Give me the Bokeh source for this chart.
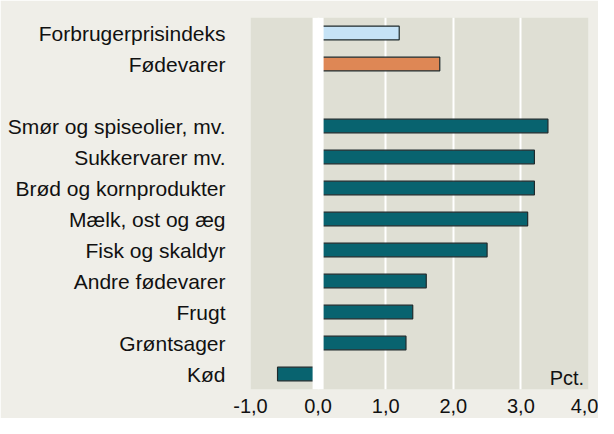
from bokeh.plotting import figure
from bokeh.models import FactorRange, Span, Label, FixedTicker, ColumnDataSource
from bokeh.embed import file_html
from bokeh.resources import INLINE

categories = ["Forbrugerprisindeks", "Fødevarer", " ",
              "Smør og spiseolier, mv.", "Sukkervarer mv.", "Brød og kornprodukter",
              "Mælk, ost og æg", "Fisk og skaldyr", "Andre fødevarer", "Frugt",
              "Grøntsager", "Kød"]
values = [1.2, 1.8, None, 3.4, 3.2, 3.2, 3.1, 2.5, 1.6, 1.4, 1.3, -0.6]
bar_colors = ["#C6E3F6", "#DE8755", None] + ["#08636F"] * 9
x_ticks = [-1, 0, 1, 2, 3, 4]
x_tick_labels = ["-1,0", "0,0", "1,0", "2,0", "3,0", "4,0"]
unit_label = "Pct."

FONT = "Liberation Sans"

cats, vals, cols = [], [], []
for c, v, col in zip(categories, values, bar_colors):
    if v is not None:
        cats.append(c); vals.append(v); cols.append(col)
src = ColumnDataSource(dict(cat=cats, val=vals, color=cols, zero=[0] * len(vals)))

p = figure(width=598, height=418, output_backend="svg", toolbar_location=None,
           y_range=FactorRange(factors=list(reversed(categories)), range_padding=0),
           x_range=(-1, 4))
p.min_border_left = 250
p.min_border_right = 10
p.min_border_top = 17
p.min_border_bottom = 29
p.background_fill_color = "#DFDFD4"
p.border_fill_color = "#EFEEE8"
p.outline_line_color = None

p.hbar(y="cat", left="zero", right="val", height=0.44, source=src,
       fill_color="color", line_color="#1E2A2C", line_width=1.2)

p.add_layout(Span(location=0, dimension="height", line_color="white", line_width=11))

p.xgrid.ticker = FixedTicker(ticks=x_ticks)
p.xgrid.grid_line_color = "white"
p.xgrid.grid_line_width = 2
p.ygrid.grid_line_color = None

p.xaxis.ticker = FixedTicker(ticks=x_ticks)
p.xaxis.major_label_overrides = {t: l for t, l in zip(x_ticks, x_tick_labels)}
for ax in (p.xaxis[0], p.yaxis[0]):
    ax.axis_line_color = None
    ax.major_tick_line_color = None
    ax.minor_tick_line_color = None
    ax.major_label_text_font = FONT
    ax.major_label_text_color = "#111111"
p.xaxis.major_label_text_font_size = "20px"
p.yaxis.major_label_text_font_size = "21px"
p.xaxis.major_label_standoff = 3
p.yaxis.major_label_standoff = 19

p.add_layout(Label(x=3.5, y=0, x_units="data", y_units="screen", text=unit_label,
                   x_offset=-5, y_offset=1, text_font=FONT, text_font_size="20px",
                   text_color="#111111", text_align="left", text_baseline="bottom"))

open("out.html", "w").write(file_html(p, INLINE))
